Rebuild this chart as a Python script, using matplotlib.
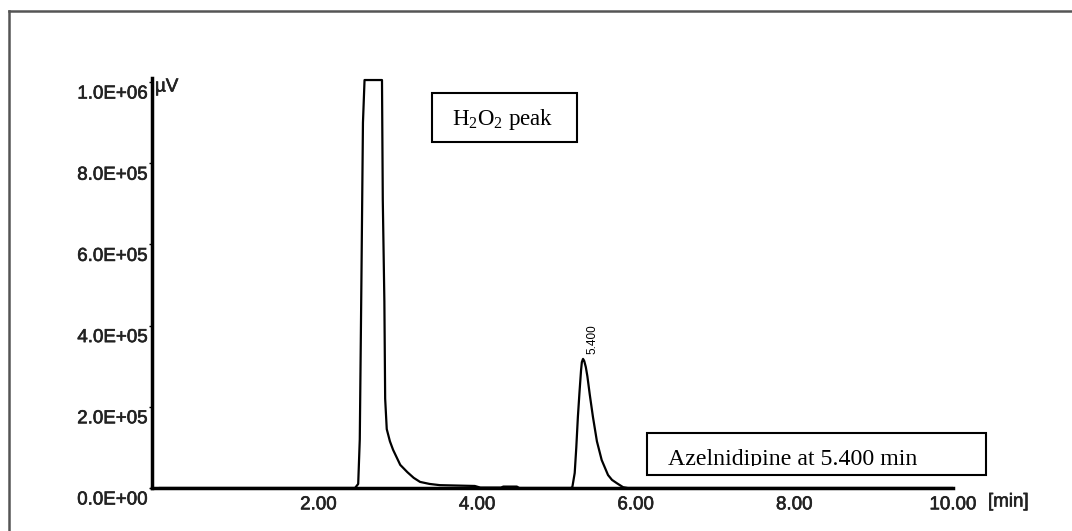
import matplotlib
matplotlib.use("Agg")
import matplotlib.pyplot as plt
from matplotlib.patches import Rectangle
from matplotlib.lines import Line2D
import matplotlib.patheffects as pe

plt.rcParams['font.family'] = ['Liberation Sans', 'DejaVu Sans']
plt.rcParams['mathtext.fontset'] = 'custom'
plt.rcParams['mathtext.rm'] = 'Liberation Serif'
plt.rcParams['mathtext.it'] = 'Liberation Serif:italic'

# ---- data ----
time_min = [0.00, 1.00, 2.00, 2.46, 2.50, 2.52, 2.54, 2.56, 2.58,
            2.80, 2.81, 2.83, 2.84, 2.86, 2.90, 2.94, 3.03, 3.12, 3.20,
            3.28, 3.40, 3.53, 3.75, 3.97, 4.04, 4.30, 4.33, 4.50, 4.53,
            5.00, 5.18, 5.20, 5.23, 5.25, 5.27, 5.29, 5.31, 5.32, 5.335,
            5.35, 5.37, 5.39, 5.42, 5.46, 5.51, 5.57, 5.65, 5.70, 5.76,
            5.84, 5.90, 7.00, 10.00]
signal_uv = [0, 0, 0, 0, 1.0e4, 1.2e5, 5.0e5, 9.0e5, 1.005e6,
             1.005e6, 7.1e5, 4.6e5, 2.2e5, 1.45e5, 1.15e5, 0.94e5, 0.57e5, 0.39e5, 0.25e5,
             0.15e5, 0.10e5, 0.07e5, 0.06e5, 0.05e5, 0.01e5, 0.01e5, 0.035e5, 0.035e5, 0.0,
             0.0, 0.0, 0.02e5, 0.37e5, 1.0e5, 1.75e5, 2.35e5, 2.9e5, 3.1e5, 3.18e5,
             3.13e5, 2.98e5, 2.75e5, 2.3e5, 1.75e5, 1.15e5, 0.69e5, 0.32e5, 0.2e5, 0.12e5,
             0.02e5, 0.0, 0.0, 0.0]

y_ticks = [0, 2e5, 4e5, 6e5, 8e5, 1e6]
y_tick_labels = ["0.0E+00", "2.0E+05", "4.0E+05", "6.0E+05", "8.0E+05", "1.0E+06"]
x_ticks = [2, 4, 6, 8, 10]
x_tick_labels = ["2.00", "4.00", "6.00", "8.00", "10.00"]
peak_label = "5.400"
peak_label_pos = (5.45, 3.3e5)

W, H = 1072, 531
fig = plt.figure(figsize=(W / 100, H / 100), dpi=100)
fig.patch.set_facecolor('white')

def fx(px):
    return px / W

def fy(py):
    return 1 - py / H

thick = [pe.withStroke(linewidth=0.45, foreground='#222222')]

ax = fig.add_axes([fx(152), fy(488), fx(953) - fx(152), fy(78) - fy(488)])
ax.plot(time_min, signal_uv, color='black', lw=1.6, solid_joinstyle='round')
ax.set_xlim(-0.1, 10.0)
ax.set_ylim(0, 1.01e6)

for s in ['top', 'right']:
    ax.spines[s].set_visible(False)
for s in ['left', 'bottom']:
    ax.spines[s].set_linewidth(2.5)
    ax.spines[s].set_color('black')

ax.set_xticks(x_ticks)
ax.set_xticklabels(x_tick_labels, fontsize=13.5, color='#222222')
for lab in ax.get_xticklabels():
    lab.set_path_effects(thick)
ax.tick_params(axis='x', length=0, pad=6)
ax.set_yticks(y_ticks)
ax.set_yticklabels([])
ax.tick_params(axis='y', length=2, width=1, direction='out')

for v, lab in zip(y_ticks, y_tick_labels):
    ax.annotate(lab, xy=(0, v), xycoords=('axes fraction', 'data'),
                xytext=(-3, -2.5), textcoords='offset points',
                ha='right', va='top', fontsize=13.5, color='#222222',
                path_effects=thick)

ax.text(peak_label_pos[0], peak_label_pos[1], peak_label, rotation=90,
        ha='center', va='bottom', fontsize=8.5)

fig.text(fx(155), fy(87), "µV", ha='left', va='center', fontsize=13.5,
         color='#222222', path_effects=thick)
fig.text(fx(988), fy(502), "[min]", ha='left', va='center', fontsize=13.5,
         color='#222222', path_effects=thick)

# outer frame (top and left)
fig.add_artist(Line2D([fx(9), 1.0], [fy(11), fy(11)], color='#555555', lw=1.8))
fig.add_artist(Line2D([fx(9), fx(9)], [fy(11), 0.0], color='#555555', lw=1.8))

# H2O2 box
r1 = Rectangle((fx(432), fy(142)), fx(577) - fx(432), fy(93) - fy(142),
               transform=fig.transFigure, fill=False, ec='black', lw=1.5)
fig.add_artist(r1)
fig.text(fx(503), fy(120), r"H$_2$O$_2$ peak", ha='center', va='center',
         fontsize=16.5, family='Liberation Serif')

# Azelnidipine box
r2 = Rectangle((fx(647), fy(475)), fx(986) - fx(647), fy(433) - fy(475),
               transform=fig.transFigure, fill=False, ec='black', lw=1.5)
fig.add_artist(r2)
t2 = fig.text(fx(668), fy(465), "Azelnidipine at 5.400 min", ha='left',
              va='baseline', fontsize=17.2, family='Liberation Serif')
clip = Rectangle((fx(647), fy(466)), fx(986) - fx(647), fy(433) - fy(466),
                 transform=fig.transFigure, visible=False)
fig.add_artist(clip)
t2.set_clip_path(clip)

fig.savefig("out.png", dpi=100, facecolor='white')
